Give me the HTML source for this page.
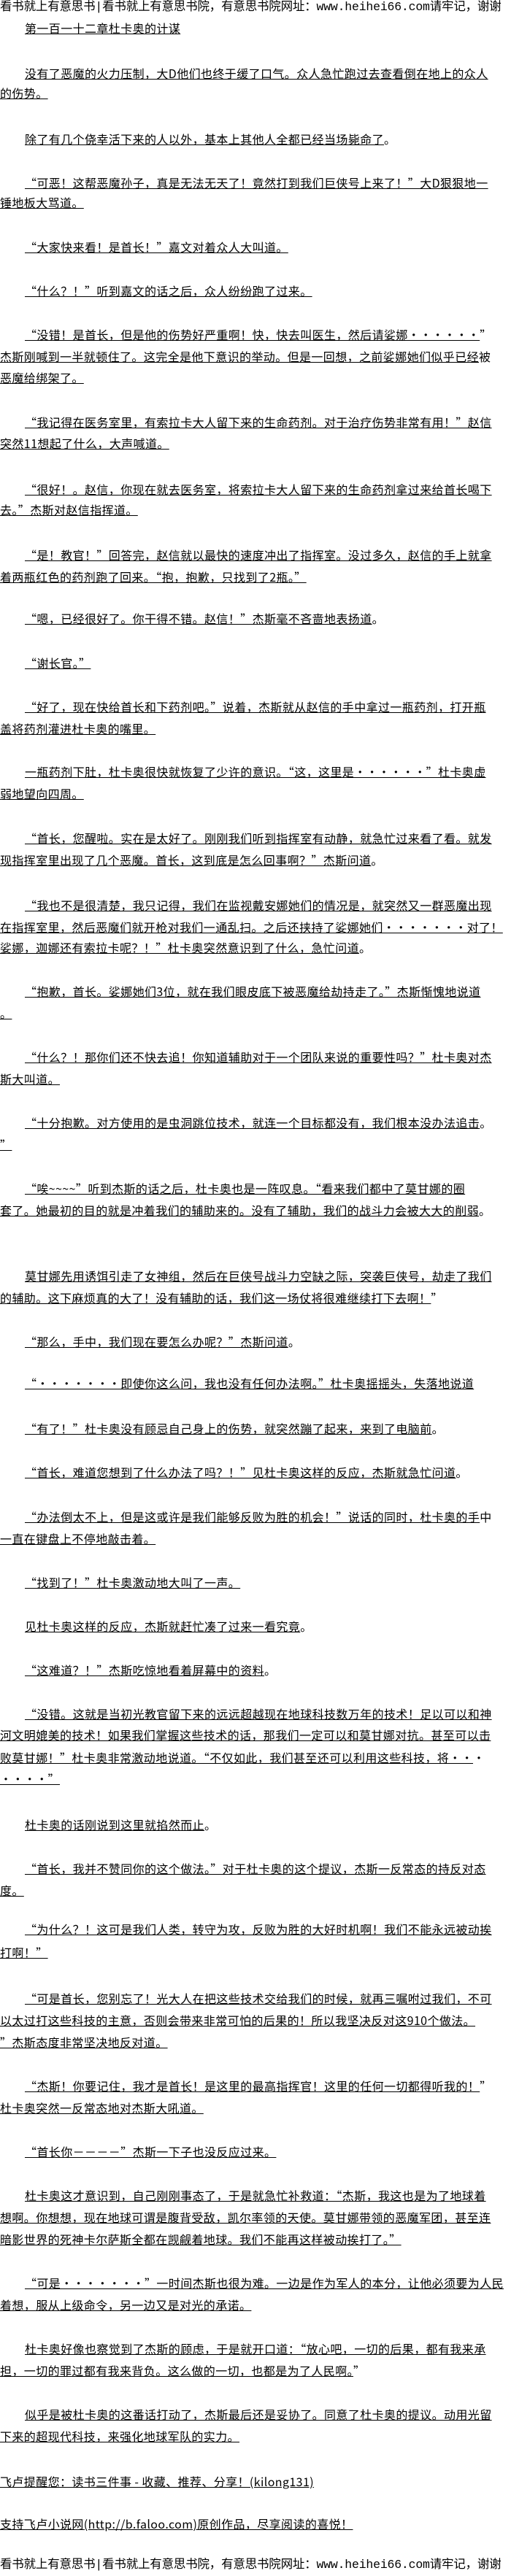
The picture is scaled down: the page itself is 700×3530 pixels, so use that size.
<!DOCTYPE html>
<html><head><meta charset="utf-8">
<style>
html,body{margin:0;padding:0;background:#fff;}
body{width:700px;height:3530px;position:relative;overflow:hidden;font-family:"WenQuanYi Zen Hei","Noto Sans CJK SC","Liberation Sans",sans-serif;color:#000;}
.l{position:absolute;left:0;white-space:nowrap;font-size:16px;line-height:18px;letter-spacing:0.4px;}
.l span{text-decoration:underline;}
.i{left:34px;}
.h{position:absolute;left:0;white-space:nowrap;font-size:16.5px;line-height:20px;width:700px;overflow:hidden;letter-spacing:-0.2px;font-family:"WenQuanYi Zen Hei","Liberation Mono",monospace;}
</style></head><body>
<div class="h" style="top:0px">看书就上有意思书|看书就上有意思书院，有意思书院网址：www.heihei66.com请牢记，谢谢</div>
<div class="l i" style="top:29px"><span>第一百一十二章杜卡奥的计谋</span></div>
<div class="l i" style="top:91px"><span>没有了恶魔的火力压制，大D他们也终于缓了口气。众人急忙跑过去查看倒在地上的众人</span></div>
<div class="l" style="top:118px"><span>的伤势。</span></div>
<div class="l i" style="top:181px"><span>除了有几个侥幸活下来的人以外，基本上其他人全都已经当场毙命了</span>。</div>
<div class="l i" style="top:241px"><span>“可恶！这帮恶魔孙子，真是无法无天了！竟然打到我们巨侠号上来了！”大D狠狠地一</span></div>
<div class="l" style="top:268px"><span>锤地板大骂道。</span></div>
<div class="l i" style="top:329px"><span>“大家快来看！是首长！”嘉文对着众人大叫道。</span></div>
<div class="l i" style="top:389px"><span>“什么？！”听到嘉文的话之后，众人纷纷跑了过来。</span></div>
<div class="l i" style="top:449px"><span>“没错！是首长，但是他的伤势好严重啊！快，快去叫医生，然后请娑娜・・・・・・</span>”</div>
<div class="l" style="top:479px"><span>杰斯刚喊到一半就顿住了。这完全是他下意识的举动。但是一回想，之前娑娜她们似乎已经</span>被</div>
<div class="l" style="top:508px"><span>恶魔给绑架了。</span></div>
<div class="l i" style="top:569px"><span>“我记得在医务室里，有索拉卡大人留下来的生命药剂。对于治疗伤势非常有用！”赵信</span></div>
<div class="l" style="top:598px"><span>突然11想起了什么，大声喊道。 </span></div>
<div class="l i" style="top:661px"><span>“很好！。赵信，你现在就去医务室，将索拉卡大人留下来的生命药剂拿过来给首长喝下</span></div>
<div class="l" style="top:689px"><span>去。”杰斯对赵信指挥道。</span></div>
<div class="l i" style="top:751px"><span>“是！教官！”回答完，赵信就以最快的速度冲出了指挥室。没过多久，赵信的手上就拿</span></div>
<div class="l" style="top:781px"><span>着两瓶红色的药剂跑了回来。“抱，抱歉，只找到了2瓶。”</span></div>
<div class="l i" style="top:838px"><span>“嗯，已经很好了。你干得不错。赵信！”杰斯毫不吝啬地表扬道</span>。</div>
<div class="l i" style="top:899px"><span>“谢长官。”</span></div>
<div class="l i" style="top:959px"><span>“好了，现在快给首长和下药剂吧。”说着，杰斯就从赵信的手中拿过一瓶药剂，打开瓶</span></div>
<div class="l" style="top:989px"><span>盖将药剂灌进杜卡奥的嘴里。</span></div>
<div class="l i" style="top:1048px"><span>一瓶药剂下肚，杜卡奥很快就恢复了少许的意识。“这，这里是・・・・・・”杜卡奥虚</span></div>
<div class="l" style="top:1078px"><span>弱地望向四周。</span></div>
<div class="l i" style="top:1139px"><span>“首长，您醒啦。实在是太好了。刚刚我们听到指挥室有动静，就急忙过来看了看。就发</span></div>
<div class="l" style="top:1169px"><span>现指挥室里出现了几个恶魔。首长，这到底是怎么回事啊？”杰斯问道</span>。</div>
<div class="l i" style="top:1231px"><span>“我也不是很清楚，我只记得，我们在监视戴安娜她们的情况是，就突然又一群恶魔出现</span></div>
<div class="l" style="top:1261px"><span>在指挥室里，然后恶魔们就开枪对我们一通乱扫。之后还挟持了娑娜她们・・・・・・・对了！</span></div>
<div class="l" style="top:1289px"><span>娑娜，迦娜还有索拉卡呢？！”杜卡奥突然意识到了什么，急忙问道</span>。</div>
<div class="l i" style="top:1349px"><span>“抱歉，首长。娑娜她们3位，就在我们眼皮底下被恶魔给劫持走了。”杰斯惭愧地说道</span></div>
<div class="l" style="top:1379px"><span>。</span></div>
<div class="l i" style="top:1439px"><span>“什么？！那你们还不快去追！你知道辅助对于一个团队来说的重要性吗？”杜卡奥对杰</span></div>
<div class="l" style="top:1469px"><span>斯大叫道。</span></div>
<div class="l i" style="top:1529px"><span>“十分抱歉。对方使用的是虫洞跳位技术，就连一个目标都没有，我们根本没办法追击</span>。</div>
<div class="l" style="top:1559px"><span>”</span></div>
<div class="l i" style="top:1619px"><span>“唉~~~~”听到杰斯的话之后，杜卡奥也是一阵叹息。“看来我们都中了莫甘娜的圈</span></div>
<div class="l" style="top:1649px"><span>套了。她最初的目的就是冲着我们的辅助来的。没有了辅助，我们的战斗力会被大大的削弱</span>。</div>
<div class="l i" style="top:1739px"><span>莫甘娜先用诱饵引走了女神组，然后在巨侠号战斗力空缺之际，突袭巨侠号，劫走了我们</span></div>
<div class="l" style="top:1769px"><span>的辅助。这下麻烦真的大了！没有辅助的话，我们这一场仗将很难继续打下去啊！</span>”</div>
<div class="l i" style="top:1829px"><span>“那么，手中，我们现在要怎么办呢？”杰斯问道</span>。</div>
<div class="l i" style="top:1886px"><span>“・・・・・・・即使你这么问，我也没有任何办法啊。”杜卡奥摇摇头，失落地说道</span></div>
<div class="l i" style="top:1948px"><span>“有了！”杜卡奥没有顾忌自己身上的伤势，就突然蹦了起来，来到了电脑前</span>。</div>
<div class="l i" style="top:2008px"><span>“首长，难道您想到了什么办法了吗？！”见杜卡奥这样的反应，杰斯就急忙问道</span>。</div>
<div class="l i" style="top:2069px"><span>“办法倒太不上，但是这或许是我们能够反败为胜的机会！”说话的同时，杜卡奥的手</span>中</div>
<div class="l" style="top:2099px"><span>一直在键盘上不停地敲击着。</span></div>
<div class="l i" style="top:2159px"><span>“找到了！”杜卡奥激动地大叫了一声。</span></div>
<div class="l i" style="top:2219px"><span>见杜卡奥这样的反应，杰斯就赶忙凑了过来一看究竟</span>。</div>
<div class="l i" style="top:2279px"><span>“这难道？！”杰斯吃惊地看着屏幕中的资料</span>。</div>
<div class="l i" style="top:2339px"><span>“没错。这就是当初光教官留下来的远远超越现在地球科技数万年的技术！足以可以和神</span></div>
<div class="l" style="top:2368px"><span>河文明媲美的技术！如果我们掌握这些技术的话，那我们一定可以和莫甘娜对抗。甚至可以击</span></div>
<div class="l" style="top:2399px"><span>败莫甘娜！”杜卡奥非常激动地说道。“不仅如此，我们甚至还可以利用这些科技，将・・</span>・</div>
<div class="l" style="top:2428px"><span>・・・・”</span></div>
<div class="l i" style="top:2491px"><span>杜卡奥的话刚说到这里就掐然而止</span>。</div>
<div class="l i" style="top:2551px"><span>“首长，我并不赞同你的这个做法。”对于杜卡奥的这个提议，杰斯一反常态的持反对态</span></div>
<div class="l" style="top:2581px"><span>度。</span></div>
<div class="l i" style="top:2634px"><span>“为什么？！这可是我们人类，转守为攻，反败为胜的大好时机啊！我们不能永远被动挨</span></div>
<div class="l" style="top:2666px"><span>打啊！”</span></div>
<div class="l i" style="top:2729px"><span>“可是首长，您别忘了！光大人在把这些技术交给我们的时候，就再三嘱咐过我们，不可</span></div>
<div class="l" style="top:2759px"><span>以太过打这些科技的主意，否则会带来非常可怕的后果的！所以我坚决反对这910个做法。</span></div>
<div class="l" style="top:2789px"><span>”杰斯态度非常坚决地反对道。</span></div>
<div class="l i" style="top:2849px"><span>“杰斯！你要记住，我才是首长！是这里的最高指挥官！这里的任何一切都得听我的！</span>”</div>
<div class="l" style="top:2879px"><span>杜卡奥突然一反常态地对杰斯大吼道。</span></div>
<div class="l i" style="top:2939px"><span>“首长你－－－－”杰斯一下子也没反应过来。</span></div>
<div class="l i" style="top:2999px"><span>杜卡奥这才意识到，自己刚刚事态了，于是就急忙补救道：“杰斯，我这也是为了地球着</span></div>
<div class="l" style="top:3029px"><span>想啊。你想想，现在地球可谓是腹背受敌，凯尔率领的天使。莫甘娜带领的恶魔军团，甚至连</span></div>
<div class="l" style="top:3059px"><span>暗影世界的死神卡尔萨斯全都在觊觎着地球。我们不能再这样被动挨打了。”</span></div>
<div class="l i" style="top:3119px"><span>“可是・・・・・・・”一时间杰斯也很为难。一边是作为军人的本分，让他必须要为人民</span></div>
<div class="l" style="top:3149px"><span>着想，服从上级命令，另一边又是对光的承诺。</span></div>
<div class="l i" style="top:3209px"><span>杜卡奥好像也察觉到了杰斯的顾虑，于是就开口道：“放心吧，一切的后果，都有我来承</span></div>
<div class="l" style="top:3239px"><span>担，一切的罪过都有我来背负。这么做的一切，也都是为了人民啊。</span>”</div>
<div class="l i" style="top:3299px"><span>似乎是被杜卡奥的这番话打动了，杰斯最后还是妥协了。同意了杜卡奥的提议。动用光留</span></div>
<div class="l" style="top:3329px"><span>下来的超现代科技，来强化地球军队的实力。 </span></div>
<div class="l" style="top:3391px"><span style="display:inline-block;width:550px;">飞卢提醒您：读书三件事 - 收藏、推荐、分享！(kilong131)</span></div>
<div class="l" style="top:3449px"><span style="display:inline-block;width:647px;">支持飞卢小说网(http://b.faloo.com)原创作品，尽享阅读的喜悦！</span></div>
<div class="h" style="top:3505px">看书就上有意思书|看书就上有意思书院，有意思书院网址：www.heihei66.com请牢记，谢谢</div>
</body></html>
